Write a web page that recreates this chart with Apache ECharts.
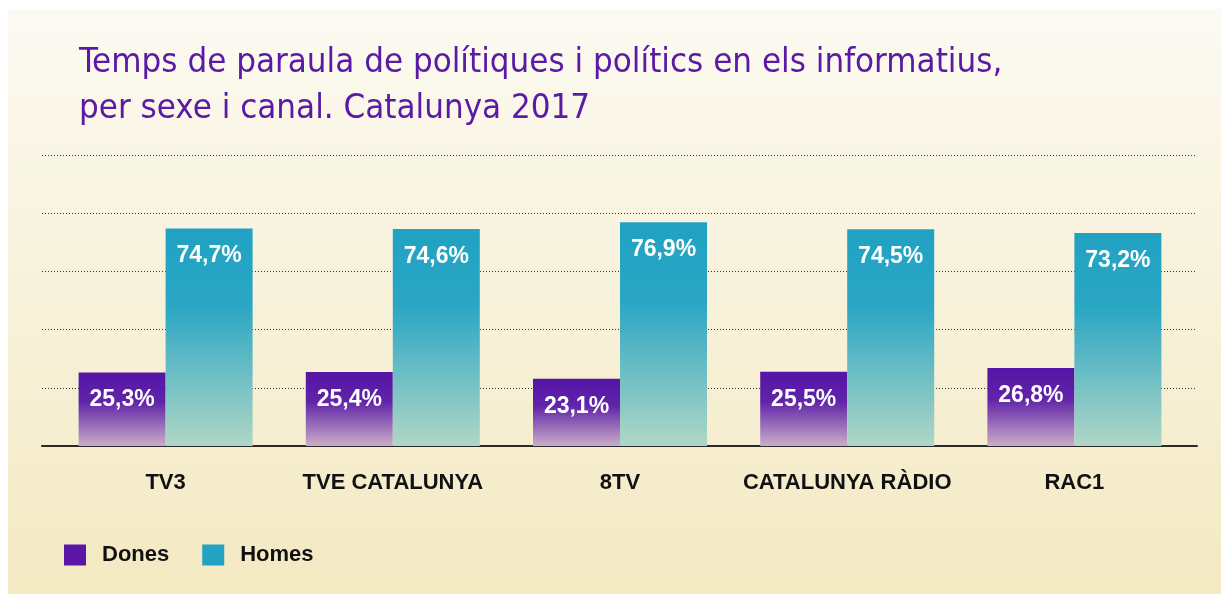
<!DOCTYPE html>
<html>
<head>
<meta charset="utf-8">
<script src="https://cdn.jsdelivr.net/npm/echarts@6/dist/echarts.min.js"></script>
<style>
  html, body { margin: 0; padding: 0; background: #fff; }
  #container_parla { width: 1226px; height: 594px; }
</style>
</head>
<body>
<div id="container_parla"></div>
<script>
// dades
var categories = ['TV3', 'TVE CATALUNYA', '8TV', 'CATALUNYA RÀDIO', 'RAC1'];
var dones = [25.3, 25.4, 23.1, 25.5, 26.8];
var homes = [74.7, 74.6, 76.9, 74.5, 73.2];
var seriesNames = ['Dones', 'Homes'];

var myChart = echarts.init(document.getElementById('container_parla'));

function pct(p) {
  return p.value.toFixed(1).replace('.', ',') + '%';
}

var labelStyle = {
  show: true,
  position: 'insideTop',
  distance: 16,
  color: '#fff',
  fontFamily: 'Liberation Sans',
  fontWeight: 'bold',
  fontSize: 23,
  formatter: pct
};

var option = {
  backgroundColor: '#fff',
  animation: false,
  graphic: {
    elements: [{
      type: 'rect',
      z: -100,
      silent: true,
      shape: { x: 8, y: 9, width: 1213, height: 585 },
      style: {
        fill: new echarts.graphic.LinearGradient(0, 0, 0, 1, [
          { offset: 0, color: '#fcfaf2' },
          { offset: 1, color: '#f3e9c2' }
        ])
      }
    }]
  },
  title: {
    text: 'Temps de paraula de polítiques i polítics en els informatius,\nper sexe i canal. Catalunya 2017',
    left: 79,
    top: 40,
    padding: 0,
    textStyle: {
      fontFamily: '"DejaVu Sans Condensed", "Liberation Sans"',
      fontWeight: 'normal',
      fontSize: 34.6,
      lineHeight: 46,
      color: '#5b1aa6'
    }
  },
  legend: {
    left: 64,
    top: 544,
    padding: 0,
    itemWidth: 22,
    itemHeight: 21,
    itemGap: 33,
    icon: 'rect',
    textStyle: {
      fontFamily: 'Liberation Sans',
      fontWeight: 'bold',
      fontSize: 22,
      color: '#111',
      padding: [0, 0, 0, 11]
    },
    data: [
      { name: seriesNames[0], itemStyle: { color: '#5a16a6' } },
      { name: seriesNames[1], itemStyle: { color: '#22a3c4' } }
    ]
  },
  grid: [
    { left: 52, right: 38, top: 155, bottom: 148 },   // barres
    { left: 42, right: 29, top: 155, bottom: 148 }    // linies de fons
  ],
  xAxis: [
    {
      type: 'category',
      gridIndex: 0,
      data: categories,
      axisLine: { show: false },
      axisTick: { show: false },
      axisLabel: {
        interval: 0,
        margin: 26,
        color: '#111',
        fontFamily: 'Liberation Sans',
        fontWeight: 'bold',
        fontSize: 22
      }
    },
    {
      type: 'category',
      gridIndex: 1,
      data: [''],
      axisLine: { show: true, lineStyle: { color: '#2b2b2b', width: 2 } },
      axisTick: { show: false },
      axisLabel: { show: false }
    }
  ],
  yAxis: [
    {
      type: 'value',
      gridIndex: 0,
      min: 0,
      max: 100,
      interval: 20,
      show: false
    },
    {
      type: 'value',
      gridIndex: 1,
      min: 0,
      max: 100,
      interval: 20,
      axisLine: { show: false },
      axisTick: { show: false },
      axisLabel: { show: false },
      splitLine: {
        show: true,
        lineStyle: { color: '#333', width: 1, type: [1, 2] }
      }
    }
  ],
  series: [
    {
      name: seriesNames[0],
      type: 'bar',
      xAxisIndex: 0,
      yAxisIndex: 0,
      data: dones,
      barWidth: 87,
      barGap: '0%',
      z: 3,
      itemStyle: {
        color: new echarts.graphic.LinearGradient(0, 0, 0, 1, [
          { offset: 0, color: '#5514a6' },
          { offset: 0.4, color: '#6024a8' },
          { offset: 1, color: '#cbadc8' }
        ])
      },
      label: labelStyle
    },
    {
      name: seriesNames[1],
      type: 'bar',
      xAxisIndex: 0,
      yAxisIndex: 0,
      data: homes,
      barWidth: 87,
      barGap: '0%',
      z: 3,
      itemStyle: {
        color: new echarts.graphic.LinearGradient(0, 0, 0, 1, [
          { offset: 0, color: '#21a2c3' },
          { offset: 0.35, color: '#2aa6c4' },
          { offset: 1, color: '#b0d7c5' }
        ])
      },
      label: labelStyle
    }
  ]
};

myChart.setOption(option);
window.onresize = myChart.resize;
</script>
</body>
</html>
